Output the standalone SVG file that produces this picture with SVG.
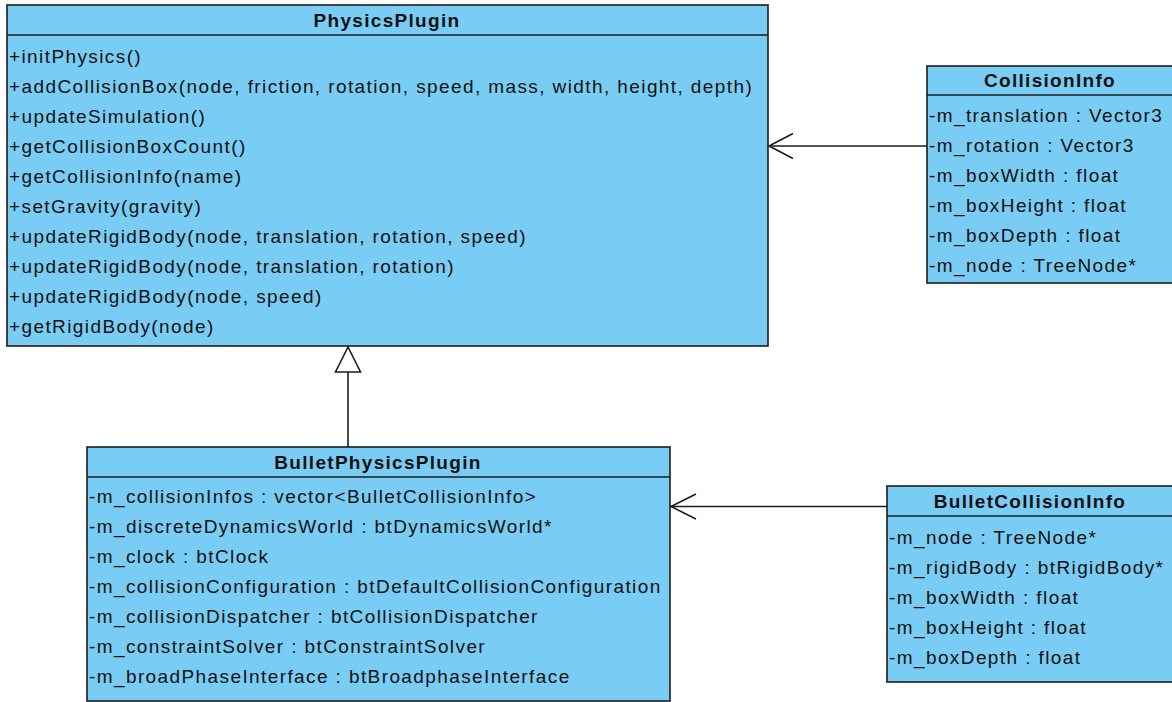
<svg xmlns="http://www.w3.org/2000/svg" width="1172" height="702" viewBox="0 0 1172 702">
  <style>
    .box { fill: #79cdf4; stroke: #1c1c1c; stroke-width: 1.6; }
    .sep { stroke: #1c1c1c; stroke-width: 1.6; }
    .title { font-family: "Liberation Sans", Arial, sans-serif; font-size: 19px; font-weight: bold; fill: #111; text-anchor: middle; letter-spacing: 1.3px; }
    .row { font-family: "Liberation Sans", Arial, sans-serif; font-size: 19px; fill: #111; letter-spacing: 1.4px; }
    .edge { fill: none; stroke: #1c1c1c; stroke-width: 1.6; }
    .head-open { fill: none; stroke: #1c1c1c; stroke-width: 1.6; }
    .head-tri { fill: #ffffff; stroke: #1c1c1c; stroke-width: 1.6; }
  </style>
  <rect width="1172" height="702" fill="#ffffff"/>

  <!-- PhysicsPlugin -->
  <g id="PhysicsPlugin">
    <rect class="box" x="7" y="5" width="761" height="341"/>
    <line class="sep" x1="7" y1="35" x2="768" y2="35"/>
    <text class="title" x="387" y="27">PhysicsPlugin</text>
    <text class="row" x="9" y="62.5">+initPhysics()</text>
    <text class="row" x="9" y="92.5">+addCollisionBox(node, friction, rotation, speed, mass, width, height, depth)</text>
    <text class="row" x="9" y="122.5">+updateSimulation()</text>
    <text class="row" x="9" y="152.5">+getCollisionBoxCount()</text>
    <text class="row" x="9" y="182.5">+getCollisionInfo(name)</text>
    <text class="row" x="9" y="212.5">+setGravity(gravity)</text>
    <text class="row" x="9" y="242.5">+updateRigidBody(node, translation, rotation, speed)</text>
    <text class="row" x="9" y="272.5">+updateRigidBody(node, translation, rotation)</text>
    <text class="row" x="9" y="302.5">+updateRigidBody(node, speed)</text>
    <text class="row" x="9" y="332.5">+getRigidBody(node)</text>
  </g>

  <!-- CollisionInfo -->
  <g id="CollisionInfo">
    <rect class="box" x="927" y="66" width="246" height="217"/>
    <line class="sep" x1="927" y1="95" x2="1173" y2="95"/>
    <text class="title" x="1050" y="87">CollisionInfo</text>
    <text class="row" x="929" y="122">-m_translation : Vector3</text>
    <text class="row" x="929" y="152">-m_rotation : Vector3</text>
    <text class="row" x="929" y="182">-m_boxWidth : float</text>
    <text class="row" x="929" y="212">-m_boxHeight : float</text>
    <text class="row" x="929" y="242">-m_boxDepth : float</text>
    <text class="row" x="929" y="272">-m_node : TreeNode*</text>
  </g>

  <!-- BulletPhysicsPlugin -->
  <g id="BulletPhysicsPlugin">
    <rect class="box" x="87" y="447" width="583" height="254"/>
    <line class="sep" x1="87" y1="477" x2="670" y2="477"/>
    <text class="title" x="378" y="468.5">BulletPhysicsPlugin</text>
    <text class="row" x="89" y="502.5">-m_collisionInfos : vector&lt;BulletCollisionInfo&gt;</text>
    <text class="row" x="89" y="532.5">-m_discreteDynamicsWorld : btDynamicsWorld*</text>
    <text class="row" x="89" y="562.5">-m_clock : btClock</text>
    <text class="row" x="89" y="592.5">-m_collisionConfiguration : btDefaultCollisionConfiguration</text>
    <text class="row" x="89" y="622.5">-m_collisionDispatcher : btCollisionDispatcher</text>
    <text class="row" x="89" y="652.5">-m_constraintSolver : btConstraintSolver</text>
    <text class="row" x="89" y="682.5">-m_broadPhaseInterface : btBroadphaseInterface</text>
  </g>

  <!-- BulletCollisionInfo -->
  <g id="BulletCollisionInfo">
    <rect class="box" x="887" y="486" width="286" height="196"/>
    <line class="sep" x1="887" y1="516" x2="1173" y2="516"/>
    <text class="title" x="1030" y="508">BulletCollisionInfo</text>
    <text class="row" x="889" y="543.5">-m_node : TreeNode*</text>
    <text class="row" x="889" y="573.5">-m_rigidBody : btRigidBody*</text>
    <text class="row" x="889" y="603.5">-m_boxWidth : float</text>
    <text class="row" x="889" y="633.5">-m_boxHeight : float</text>
    <text class="row" x="889" y="663.5">-m_boxDepth : float</text>
  </g>

  <!-- connectors -->
  <g id="connectors">
    <!-- CollisionInfo -> PhysicsPlugin (navigable association) -->
    <line class="edge" x1="927" y1="146" x2="769" y2="146"/>
    <polyline class="head-open" points="793,133.5 769,146 793,158.5"/>
    <!-- BulletCollisionInfo -> BulletPhysicsPlugin (navigable association) -->
    <line class="edge" x1="887" y1="506.5" x2="671" y2="506.5"/>
    <polyline class="head-open" points="696,494 671,506.5 696,519"/>
    <!-- BulletPhysicsPlugin generalizes PhysicsPlugin -->
    <line class="edge" x1="348" y1="447" x2="348" y2="372"/>
    <polygon class="head-tri" points="348,347 335.5,372 360.5,372"/>
  </g>
</svg>
